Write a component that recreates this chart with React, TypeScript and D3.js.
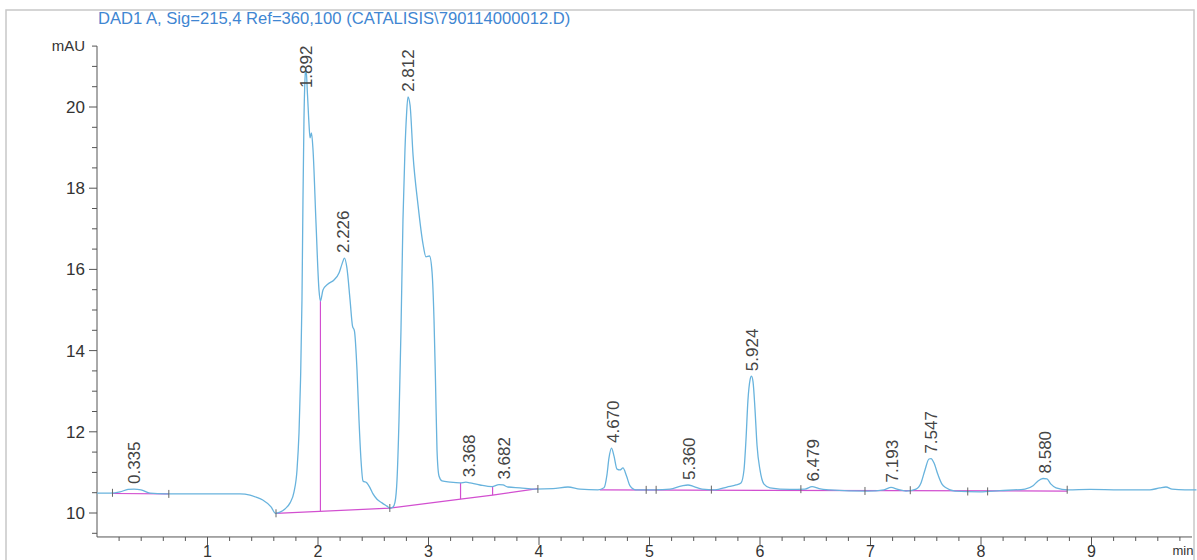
import React, { useEffect, useRef } from 'react';
import * as d3 from 'd3';

// trace (min, mAU)
const traceTime = [
  0.0, 0.118, 0.208, 0.281, 0.335, 0.398, 0.48, 0.615, 0.932, 1.294, 1.385, 1.44, 1.5, 1.575, 1.616,
  1.656, 1.701, 1.747, 1.783, 1.81, 1.828, 1.842, 1.855, 1.864, 1.873, 1.882, 1.891, 1.905, 1.919,
  1.928, 1.941, 1.955, 1.982, 2.009, 2.022, 2.045, 2.09, 2.145, 2.19, 2.217, 2.24, 2.262, 2.29, 2.312,
  2.33, 2.353, 2.371, 2.389, 2.407, 2.443, 2.471, 2.498, 2.534, 2.579, 2.624, 2.652, 2.679, 2.697,
  2.715, 2.733, 2.751, 2.769, 2.787, 2.801, 2.814, 2.833, 2.86, 2.905, 2.95, 2.977, 3.009, 3.032,
  3.05, 3.063, 3.077, 3.095, 3.122, 3.195, 3.285, 3.339, 3.376, 3.466, 3.575, 3.638, 3.674, 3.719,
  3.828, 3.964, 4.127, 4.262, 4.371, 4.534, 4.588, 4.615, 4.633, 4.656, 4.679, 4.706, 4.733, 4.76,
  4.792, 4.824, 4.878, 5.05, 5.186, 5.294, 5.348, 5.403, 5.475, 5.593, 5.701, 5.783, 5.828, 5.855,
  5.873, 5.891, 5.91, 5.923, 5.937, 5.955, 5.973, 6.0, 6.036, 6.09, 6.271, 6.407, 6.471, 6.534, 6.633,
  6.977, 7.122, 7.186, 7.249, 7.321, 7.412, 7.457, 7.493, 7.529, 7.548, 7.575, 7.611, 7.647, 7.683,
  7.765, 7.99, 8.172, 8.398, 8.471, 8.516, 8.561, 8.597, 8.633, 8.679, 8.787, 8.986, 9.258, 9.529,
  9.62, 9.674, 9.729, 9.846, 9.95,
];
const traceValue = [
  10.49, 10.49, 10.52, 10.58, 10.59, 10.57, 10.49, 10.47, 10.47, 10.47, 10.44, 10.39, 10.32, 10.15, 9.99,
  10.02, 10.1, 10.25, 10.52, 11.06, 11.97, 13.28, 15.25, 17.71, 19.68, 20.67, 20.96, 20.3, 19.56,
  19.24, 19.36, 18.94, 17.14, 15.49, 15.22, 15.49, 15.64, 15.74, 15.91, 16.13, 16.28, 16.03, 15.25, 14.61,
  14.48, 13.52, 12.29, 11.31, 10.79, 10.74, 10.62, 10.47, 10.34, 10.25, 10.17, 10.12, 10.15, 10.27,
  10.81, 12.29, 14.51, 17.22, 18.94, 19.8, 20.25, 20.05, 18.82, 17.59, 16.63, 16.31, 16.33, 15.94,
  14.75, 13.28, 11.55, 10.91, 10.79, 10.76, 10.74, 10.76, 10.74, 10.69, 10.65, 10.7, 10.69, 10.64,
  10.62, 10.59, 10.6, 10.64, 10.59, 10.57, 10.62, 10.94, 11.35, 11.6, 11.4, 11.08, 11.06, 11.11,
  10.91, 10.67, 10.57, 10.57, 10.59, 10.67, 10.69, 10.65, 10.59, 10.57, 10.64, 10.69, 10.74, 11.06,
  11.8, 12.78, 13.28, 13.37, 13.23, 12.54, 11.67, 11.06, 10.71, 10.62, 10.58, 10.59, 10.65, 10.6, 10.57,
  10.54, 10.57, 10.63, 10.58, 10.54, 10.59, 10.74, 11.06, 11.33, 11.34, 11.23, 10.94, 10.71, 10.62,
  10.54, 10.52, 10.55, 10.59, 10.67, 10.79, 10.85, 10.84, 10.71, 10.62, 10.57, 10.58, 10.57, 10.57,
  10.62, 10.64, 10.59, 10.57, 10.57,
];

// integrated peaks: retention time label and apex height
const peakLabels = ['0.335', '1.892', '2.226', '2.812', '3.368', '3.682', '4.670', '5.360', '5.924', '6.479', '7.193', '7.547', '8.580'];
const peakApex = [10.59, 20.96, 16.28, 20.25, 10.76, 10.7, 11.6, 10.69, 13.37, 10.65, 10.63, 11.34, 10.85];

// baselines drawn by the integrator
const baselineTimes = [[0.14, 0.65], [1.62, 2.65, 3.29, 3.58, 3.99], [4.55, 8.78]];
const baselineValues = [[10.48, 10.47], [9.99, 10.12, 10.34, 10.44, 10.6], [10.57, 10.54]];
const dropTimes = [2.022, 3.29, 3.58];
const dropBase = [10.05, 10.34, 10.44];
const boundaryTicks = [0.14, 0.65, 1.62, 2.65, 3.99, 4.97, 5.06, 5.56, 6.37, 6.95, 7.36, 7.88, 8.06, 8.78];

const xTicks = [1, 2, 3, 4, 5, 6, 7, 8, 9];
const yTicks = [10, 12, 14, 16, 18, 20];

const FONT = '"Liberation Sans", Arial, Helvetica, sans-serif';

export default function App() {
  const svgRef = useRef<SVGSVGElement>(null);

  useEffect(() => {
    if (!svgRef.current) return;
    const svg = d3.select(svgRef.current);
    svg.selectAll('*').remove();

    const W = 1197, H = 560;
    const x = d3.scaleLinear().domain([0, 9.95]).range([97, 97 + 9.95 * 110.5]);
    const y = d3.scaleLinear().domain([10, 20]).range([513, 107]);
    const yMin = 9.41, yMax = 21.5;

    svg.append('rect').attr('width', W).attr('height', H).attr('fill', '#fff');

    // scanned page frame
    svg.append('rect')
      .attr('x', 6).attr('y', 10).attr('width', 1188).attr('height', 580)
      .attr('fill', 'none').attr('stroke', '#c8c8c8').attr('stroke-width', 1.5);

    svg.append('text')
      .attr('x', 98).attr('y', 24)
      .attr('font-family', FONT).attr('font-size', 16.6)
      .attr('fill', '#3f86d2')
      .text('DAD1 A, Sig=215,4 Ref=360,100 (CATALISIS\\790114000012.D)');

    const axisColor = '#555';

    // y axis
    svg.append('line')
      .attr('x1', 97).attr('x2', 97).attr('y1', y(yMax)).attr('y2', y(yMin))
      .attr('stroke', axisColor);
    const yMinor = d3.range(9.5, yMax + 0.01, 0.5);
    svg.append('g').selectAll('line').data(yMinor).enter().append('line')
      .attr('x1', d => (Math.abs(d % 2) < 0.01 ? 89 : 92)).attr('x2', 97)
      .attr('y1', d => y(d)).attr('y2', d => y(d))
      .attr('stroke', axisColor);
    svg.append('g').selectAll('text').data(yTicks).enter().append('text')
      .attr('x', 85).attr('y', d => y(d)).attr('dy', '0.35em')
      .attr('text-anchor', 'end')
      .attr('font-family', FONT).attr('font-size', 17).attr('fill', '#333')
      .text(d => d);
    svg.append('text')
      .attr('x', 85).attr('y', y(yMax)).attr('dy', '0.35em')
      .attr('text-anchor', 'end')
      .attr('font-family', FONT).attr('font-size', 15).attr('fill', '#333')
      .text('mAU');

    // x axis
    const axisY = y(yMin);
    svg.append('line')
      .attr('x1', 97).attr('x2', 1192).attr('y1', axisY).attr('y2', axisY)
      .attr('stroke', axisColor);
    const xMinor = d3.range(0.2, 9.95, 0.2);
    svg.append('g').selectAll('line').data(xMinor).enter().append('line')
      .attr('x1', d => x(d)).attr('x2', d => x(d))
      .attr('y1', axisY).attr('y2', d => (Math.abs(d - Math.round(d)) < 0.01 ? axisY + 8 : axisY + 4))
      .attr('stroke', axisColor);
    svg.append('g').selectAll('text').data(xTicks).enter().append('text')
      .attr('x', d => x(d)).attr('y', 557)
      .attr('text-anchor', 'middle')
      .attr('font-family', FONT).attr('font-size', 16).attr('fill', '#333')
      .text(d => d);
    svg.append('text')
      .attr('x', 1183).attr('y', 555)
      .attr('text-anchor', 'middle')
      .attr('font-family', FONT).attr('font-size', 13).attr('fill', '#333')
      .text('min');

    // integration baselines
    const baseLine = d3.line<[number, number]>().x(d => x(d[0])).y(d => y(d[1]));
    baselineTimes.forEach((ts, i) => {
      const pts = ts.map((t, j) => [t, baselineValues[i][j]] as [number, number]);
      svg.append('path').attr('d', baseLine(pts))
        .attr('fill', 'none').attr('stroke', '#d24fd0').attr('stroke-width', 1.2);
    });

    const valueAt = (t: number) => {
      const i = d3.bisectLeft(traceTime, t);
      if (i <= 0) return traceValue[0];
      if (i >= traceTime.length) return traceValue[traceValue.length - 1];
      const f = (t - traceTime[i - 1]) / (traceTime[i] - traceTime[i - 1]);
      return traceValue[i - 1] + f * (traceValue[i] - traceValue[i - 1]);
    };

    dropTimes.forEach((t, i) => {
      svg.append('line')
        .attr('x1', x(t)).attr('x2', x(t))
        .attr('y1', y(dropBase[i])).attr('y2', y(valueAt(t)))
        .attr('stroke', '#d24fd0').attr('stroke-width', 1.2);
    });

    // trace
    const traceLine = d3.line<number>()
      .x((_, i) => x(traceTime[i]))
      .y(d => y(d))
      .curve(d3.curveMonotoneX);
    svg.append('path').attr('d', traceLine(traceValue))
      .attr('fill', 'none').attr('stroke', '#68b3dd').attr('stroke-width', 1.3);

    // peak start/stop marks
    svg.append('g').selectAll('line').data(boundaryTicks).enter().append('line')
      .attr('x1', d => x(d)).attr('x2', d => x(d))
      .attr('y1', d => y(valueAt(d)) - 4).attr('y2', d => y(valueAt(d)) + 4)
      .attr('stroke', '#666').attr('stroke-width', 1);

    // retention time labels
    const labelLen = 42;
    svg.append('g').selectAll('text').data(peakLabels).enter().append('text')
      .attr('transform', (d, i) => {
        const t = +d;
        const bottom = Math.max(y(peakApex[i]) - 5, y(yMax) + labelLen);
        return `translate(${x(t)},${bottom}) rotate(-90)`;
      })
      .attr('dy', '0.35em')
      .attr('font-family', FONT).attr('font-size', 17).attr('fill', '#444')
      .text(d => d);
  }, []);

  return (
    <svg
      ref={svgRef}
      width="1197"
      height="560"
      style={{ position: 'absolute', left: 0, top: 0 }}
    />
  );
}
